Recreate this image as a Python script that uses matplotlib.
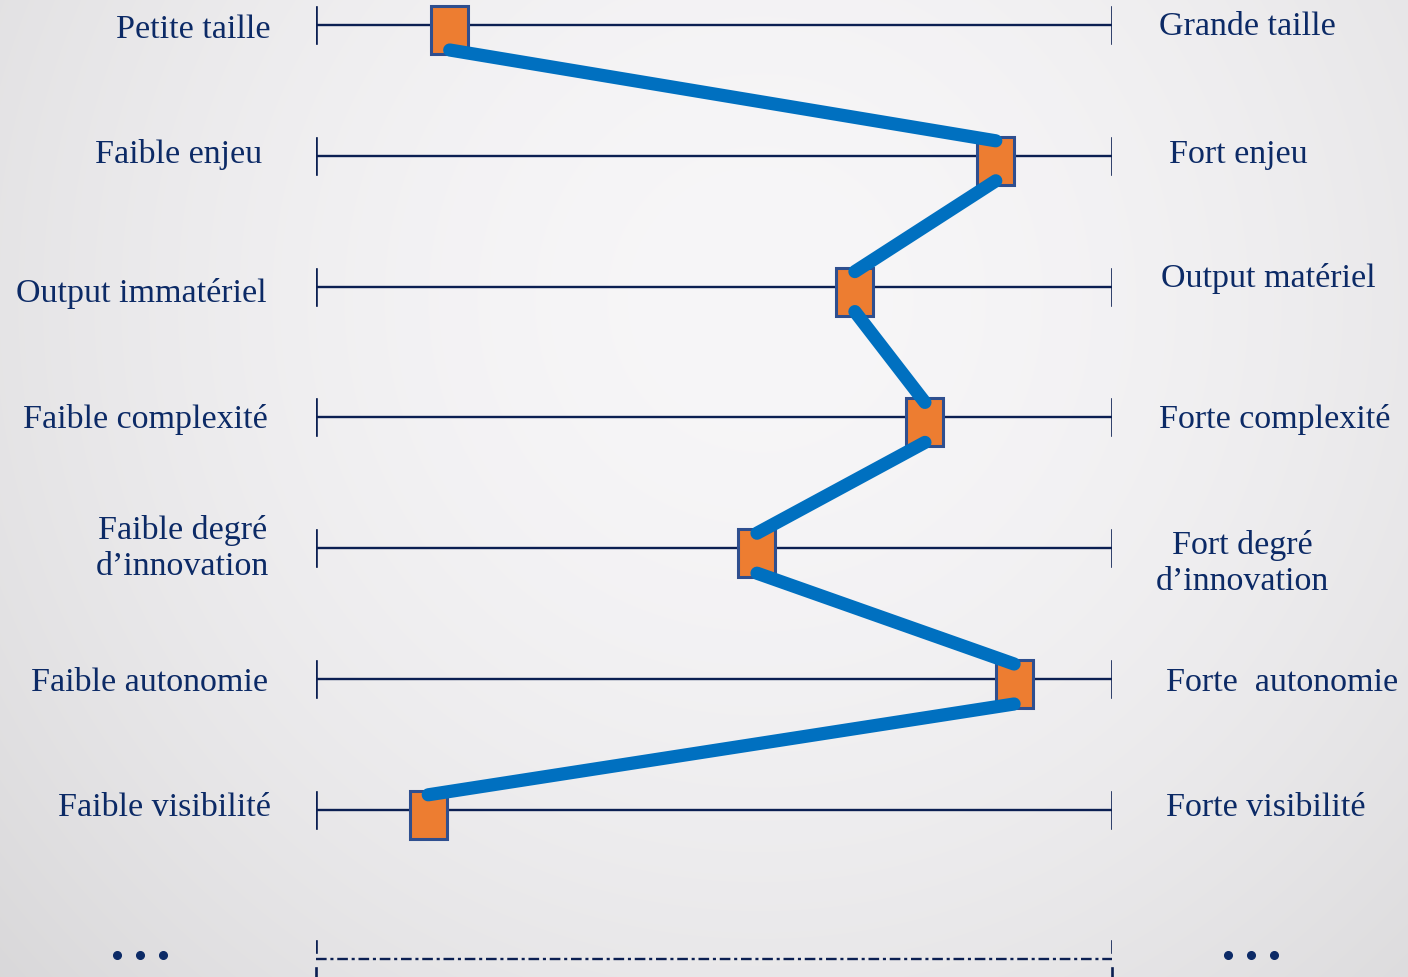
import numpy as np
import matplotlib
matplotlib.use('Agg')
import matplotlib.pyplot as plt
from matplotlib.patches import Rectangle

# Profile data: left pole, right pole, position on the 0-10 scale
left_labels = ['Petite taille', 'Faible enjeu', 'Output immatériel', 'Faible complexité',
               'Faible degré\nd\u2019innovation', 'Faible autonomie', 'Faible visibilité']
right_labels = ['Grande taille', 'Fort enjeu', 'Output matériel', 'Forte complexité',
                'Fort degré\nd\u2019innovation', 'Forte  autonomie', 'Forte visibilité']
scores = [1.68, 8.54, 6.77, 7.65, 5.54, 8.77, 1.41]

# layout (pixels)
W, H = 1408, 978
x0, x1 = 316, 1112          # scale line ends
row0, step = 26, 130.8      # first row y and spacing
left_x = [271, 262, 267, 268, 269, 268, 271]
right_x = [1159, 1169, 1161, 1159, 1156, 1166, 1166]
left_dy = [4, -2, 6, 1, -1, 3, -3]
right_dy = [1, -2, -9, 1, 14, 3, -3]

navy = '#0c2a66'
line_col = '#0b1f52'
orange = '#ed7d31'
edge = '#2f4f8f'
blue = '#0070c0'

fig = plt.figure(figsize=(W / 100, H / 100), dpi=100)

# background gradient
bg = fig.add_axes([0, 0, 1, 1])
yy, xx = np.mgrid[0:H, 0:W]
d = np.sqrt((xx - 760) ** 2 + (yy - 300) ** 2) / 1018
v = np.clip(247 - 30 * d ** 1.8, 0, 255) / 255
img = np.dstack([v, v - 0.004, v + 0.003])
bg.imshow(np.clip(img, 0, 1), extent=[0, W, H, 0], aspect='auto')
bg.set_axis_off()

# main axes: x in score units 0-10 spanning the scale lines, y in pixels
ax = fig.add_axes([x0 / W, 0, (x1 - x0) / W, 1])
ax.set_xlim(0, 10)
ax.set_ylim(H, 0)
ax.set_axis_off()
ax.patch.set_alpha(0)

px = 10 / (x1 - x0)   # score units per pixel
sq_w, sq_h, sq_off = 37 * px, 48, 5
ends_inset = 4

font = dict(family=['Liberation Serif', 'DejaVu Serif'], fontsize=24.5, color=navy)

ys = [row0 + i * step for i in range(len(scores))]
for i, y in enumerate(ys):
    ax.plot([0, 10], [y, y], color=line_col, lw=1.7, solid_capstyle='butt', zorder=2)
    ax.plot([0, 0], [y - 18, y + 18], color=line_col, lw=1.9, zorder=2)
    ax.plot([10, 10], [y - 18, y + 18], color=line_col, lw=1.9, zorder=2)
    ax.text((left_x[i] - x0) * px, y + left_dy[i], left_labels[i], ha='right', va='center',
            multialignment='center', linespacing=1.22, clip_on=False, **font)
    ax.text((right_x[i] - x0) * px, y + right_dy[i], right_labels[i], ha='left', va='center',
            multialignment='center', linespacing=1.22, clip_on=False, **font)
    ax.add_patch(Rectangle((scores[i] - sq_w / 2, y + sq_off - sq_h / 2), sq_w, sq_h,
                           facecolor=orange, edgecolor=edge, lw=2.2, zorder=3))

# profile line: bottom of one square to top of the next
for i in range(len(scores) - 1):
    ya = ys[i] + sq_off + sq_h / 2 - ends_inset
    yb = ys[i + 1] + sq_off - sq_h / 2 + ends_inset
    ax.plot([scores[i], scores[i + 1]], [ya, yb], color=blue, lw=9.5,
            solid_capstyle='round', zorder=4)

# continuation row
yd = 960
ax.plot([0, 10], [yd, yd], color=line_col, lw=1.7, dashes=(4.5, 1.6, 1.3, 1.6), zorder=2)
for xe in (0, 10):
    ax.plot([xe, xe], [942, 953], color=line_col, lw=1.9, zorder=2)
    ax.plot([xe, xe], [969, 980], color=line_col, lw=1.9, zorder=2, clip_on=False)
for xs in ([117, 140, 163], [1228, 1251, 1274]):
    ax.plot([(x - x0) * px for x in xs], [956] * 3, 'o', color=navy, ms=5.5,
            clip_on=False, zorder=3)

fig.savefig('out.png', dpi=100)
